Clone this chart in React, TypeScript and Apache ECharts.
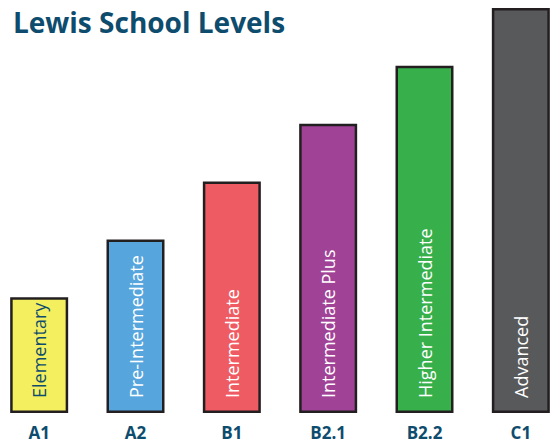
import React, { useEffect, useRef } from "react";
import * as echarts from "echarts";

const title = "Lewis School Levels";
const categories = ["A1", "A2", "B1", "B2.1", "B2.2", "C1"];
const levelNames = [
  "Elementary",
  "Pre-Intermediate",
  "Intermediate",
  "Intermediate Plus",
  "Higher Intermediate",
  "Advanced",
];
const values = [2, 3, 4, 5, 6, 7];
const barColors = ["#f3ef5e", "#56a5dc", "#ef5b63", "#a04296", "#37b04b", "#58595b"];
const labelColors = ["#0e4c6e", "#ffffff", "#ffffff", "#ffffff", "#ffffff", "#ffffff"];

const FONT = "'Open Sans', Lato, sans-serif";
const NAVY = "#0e4c6e";
const SHIFT = 9;

export default function App() {
  const ref = useRef<HTMLDivElement>(null);
  useEffect(() => {
    if (!ref.current) return;
    const chart = echarts.init(ref.current, null, { renderer: "svg" });
    chart.setOption({
      animation: false,
      backgroundColor: "#ffffff",
      title: {
        text: title,
        left: 8 + SHIFT,
        top: 3,
        textStyle: { fontFamily: FONT, fontSize: 28, fontWeight: "bold", color: NAVY },
      },
      grid: { left: 0, right: 0, top: 8, bottom: 30, containLabel: false },
      xAxis: {
        type: "category",
        data: categories,
        axisLine: { show: false },
        axisTick: { show: false },
        axisLabel: {
          margin: 11,
          fontFamily: FONT,
          fontSize: 17,
          fontWeight: "bold",
          color: NAVY,
        },
      },
      yAxis: { type: "value", min: 0, max: 7, show: false, splitLine: { show: false } },
      series: [
        {
          type: "bar",
          barWidth: 58,
          data: values.map((v, i) => ({
            value: v,
            itemStyle: { color: barColors[i], borderColor: "#231f20", borderWidth: 2.5 },
            label: {
              show: true,
              formatter: levelNames[i],
              position: "insideBottom",
              rotate: 90,
              align: "left",
              verticalAlign: "middle",
              distance: 15,
              fontFamily: FONT,
              fontSize: 18,
              color: labelColors[i],
            },
          })),
        },
      ],
    });
    return () => chart.dispose();
  }, []);
  return (
    <div style={{ position: "absolute", left: 0, top: 0, width: 552, height: 443, overflow: "hidden", background: "#fff" }}>
      <div
        ref={ref}
        style={{ position: "absolute", left: -SHIFT, top: 0, width: 578, height: 443 }}
      />
    </div>
  );
}
